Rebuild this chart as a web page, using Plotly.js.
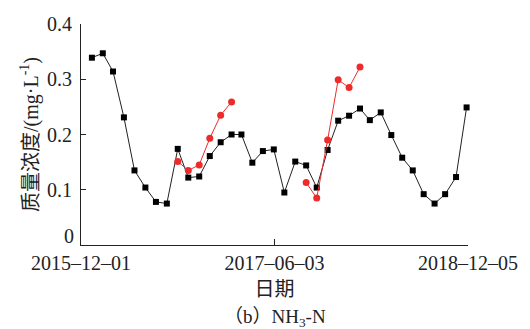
<!DOCTYPE html>
<html>
<head>
<meta charset="utf-8">
<script src="https://cdn.plot.ly/plotly-3.0.1.min.js"></script>
<style>html,body{margin:0;padding:0;background:#fff;}#chart{width:530px;height:329px;}</style>
</head>
<body>
<div id="chart"></div>
<script>
// Monthly sampling dates (black series)
var dates = [
  "2016-01-01","2016-02-01","2016-03-01","2016-04-01","2016-05-01","2016-06-01",
  "2016-07-01","2016-08-01","2016-09-01","2016-10-01","2016-11-01","2016-12-01",
  "2017-01-01","2017-02-01","2017-03-01","2017-04-01","2017-05-01","2017-06-01",
  "2017-07-01","2017-08-01","2017-09-01","2017-10-01","2017-11-01","2017-12-01",
  "2018-01-01","2018-02-01","2018-03-01","2018-04-01","2018-05-01","2018-06-01",
  "2018-07-01","2018-08-01","2018-09-01","2018-10-01","2018-11-01","2018-12-01"
];
var blackValues = [
  0.339, 0.347, 0.314, 0.231, 0.135, 0.104, 0.078, 0.075, 0.174, 0.122, 0.124, 0.161,
  0.186, 0.200, 0.200, 0.149, 0.170, 0.173, 0.095, 0.151, 0.144, 0.104, 0.172, 0.225,
  0.234, 0.247, 0.226, 0.240, 0.199, 0.158, 0.135, 0.092, 0.075, 0.092, 0.123, 0.249
];
var red1Dates = ["2016-09-01","2016-10-01","2016-11-01","2016-12-01","2017-01-01","2017-02-01"];
var red1Values = [0.151, 0.135, 0.145, 0.193, 0.235, 0.259];
var red2Dates = ["2017-09-01","2017-10-01","2017-11-01","2017-12-01","2018-01-01","2018-02-01"];
var red2Values = [0.113, 0.085, 0.190, 0.299, 0.285, 0.322];

var tickDates = ["2015-12-01","2017-06-03","2018-12-05"];
var tickLabels = ["2015–12–01","2017–06–03","2018–12–05"];
var yTicks = [0, 0.1, 0.2, 0.3, 0.4];
var yTickLabels = ["0", "0.1", "0.2", "0.3", "0.4"];

var FONT = "Liberation Serif, Times New Roman, Noto Sans CJK SC, serif";
var RED = "#ee2b2b";

// the "0" label sits raised above the axis corner (as in the source), drawn as annotation
var yTickText = yTickLabels.map(function (t, i) { return i === 0 ? "" : t; });

var traces = [
  {x: dates, y: blackValues, type: "scatter", mode: "lines+markers",
   line: {color: "#222", width: 1}, marker: {symbol: "square", size: 6, color: "#000"},
   showlegend: false, cliponaxis: false},
  {x: red1Dates, y: red1Values, type: "scatter", mode: "lines+markers",
   line: {color: RED, width: 1}, marker: {symbol: "circle", size: 7, color: RED},
   showlegend: false, cliponaxis: false},
  {x: red2Dates, y: red2Values, type: "scatter", mode: "lines+markers",
   line: {color: RED, width: 1}, marker: {symbol: "circle", size: 7, color: RED},
   showlegend: false, cliponaxis: false}
];

var layout = {
  width: 530, height: 329,
  margin: {l: 81, r: 62, t: 24, b: 84},
  paper_bgcolor: "#fff", plot_bgcolor: "#fff",
  font: {family: FONT, size: 20, color: "#222"},
  xaxis: {
    type: "date",
    range: ["2015-12-01", "2018-12-05"],
    tickmode: "array", tickvals: tickDates, ticktext: tickLabels,
    ticks: "inside", ticklen: 6, tickwidth: 1, tickcolor: "#222",
    showline: true, linecolor: "#222", linewidth: 1,
    showgrid: false, zeroline: false,
    ticklabelstandoff: 0,
    tickfont: {family: FONT, size: 20, color: "#222"},
    title: {text: "日期", font: {family: FONT, size: 20, color: "#222"}, standoff: 8}
  },
  yaxis: {
    range: [0, 0.4],
    tickmode: "array", tickvals: yTicks, ticktext: yTickText,
    ticks: "inside", ticklen: 5, tickwidth: 1, tickcolor: "#222",
    showline: true, linecolor: "#222", linewidth: 1,
    showgrid: false, zeroline: false,
    ticklabelstandoff: 4,
    tickfont: {family: FONT, size: 20, color: "#222"},
    title: {text: "质量浓度/(mg·L<sup>-1</sup>)", font: {family: FONT, size: 20, color: "#222"}, standoff: 3}
  },
  annotations: [
    {
      text: yTickLabels[0], xref: "paper", yref: "y",
      x: 0, y: yTicks[0], xanchor: "right", yanchor: "bottom", xshift: -5, yshift: -4,
      showarrow: false, font: {family: FONT, size: 20, color: "#222"}
    },
    {
      text: "（b）NH<sub>3</sub>-N", xref: "paper", yref: "paper",
      x: 0.5, y: -0.33, xanchor: "center", yanchor: "middle", showarrow: false,
      font: {family: FONT, size: 19, color: "#222"}
    }
  ]
};

Plotly.newPlot("chart", traces, layout, {displayModeBar: false, staticPlot: true});
</script>
</body>
</html>
